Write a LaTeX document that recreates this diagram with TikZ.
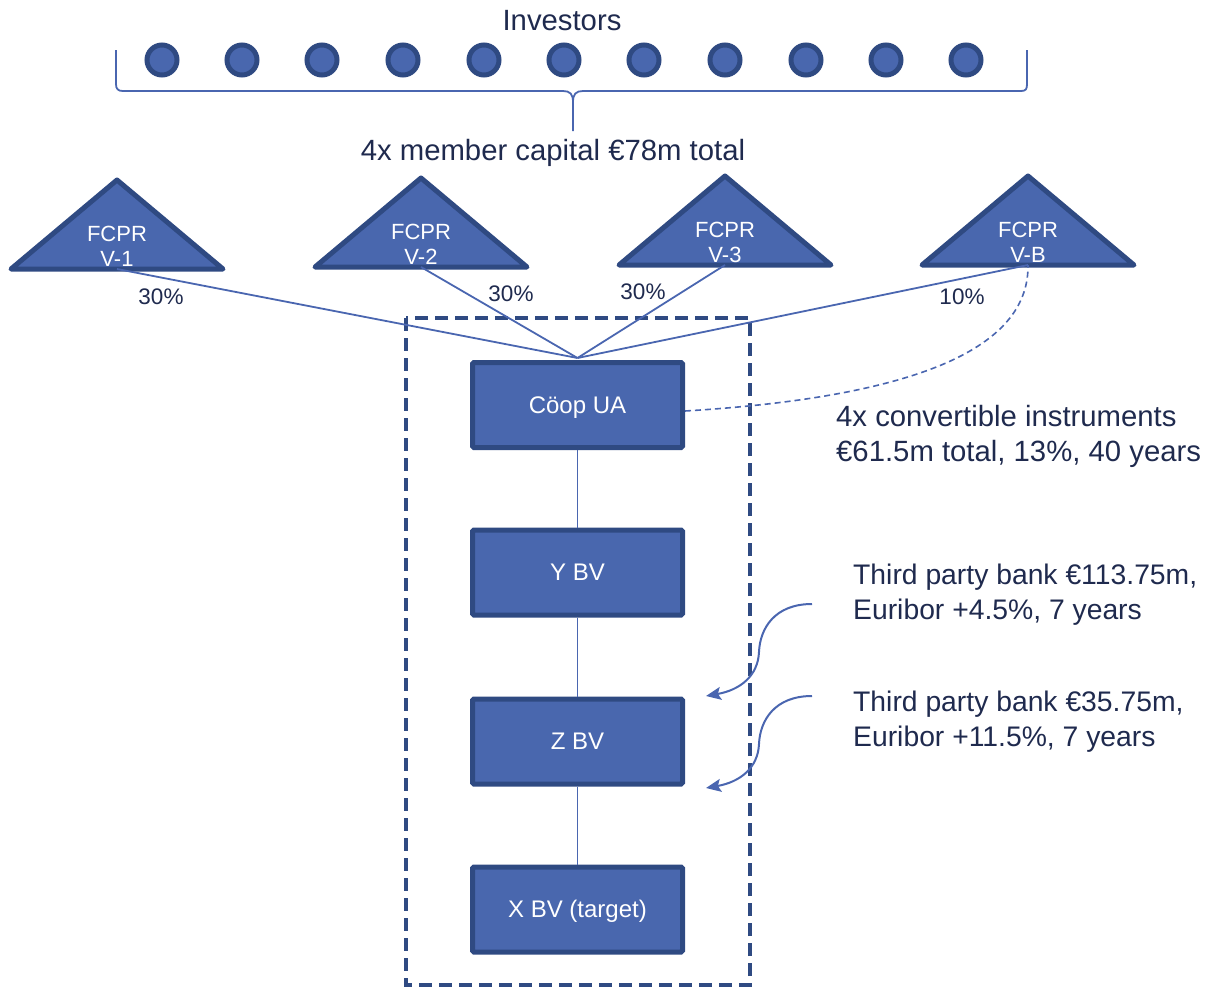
\documentclass[tikz,border=0pt]{standalone}
\usepackage{fontspec}
\setmainfont{Liberation Sans}
\usetikzlibrary{arrows.meta}
\definecolor{boxfill}{HTML}{4967AE}
\definecolor{boxedge}{HTML}{2F4A82}
\definecolor{linkblue}{HTML}{4A66B0}
\definecolor{navytext}{HTML}{1F2A4E}
\tikzset{
  txt/.style={text=navytext, inner sep=0pt, font=\fontsize{29.3}{35}\selectfont},
  banktxt/.style={text=navytext, inner sep=0pt, font=\fontsize{28.3}{35}\selectfont},
  pct/.style={text=navytext, inner sep=0pt, font=\fontsize{22.5}{25}\selectfont},
  entity/.style={draw=boxedge, fill=boxfill, line width=5pt, rounded corners=1.5pt,
    minimum width=210pt, minimum height=85pt, text=white, inner sep=0pt,
    text height=16pt, text depth=0pt,
    font=\fontsize{24}{28}\selectfont},
  investor/.style={circle, draw=boxedge, fill=boxfill, line width=5pt,
    minimum size=30pt, inner sep=0pt},
  fund/.style={draw=boxedge, fill=boxfill, line width=5pt, line join=round},
  fundtext/.style={text=white, inner sep=0pt, align=center,
    font=\fontsize{22}{26}\selectfont},
  link/.style={draw=linkblue, line width=1.8pt},
  perimeter/.style={draw=boxedge, line width=4pt, dash pattern=on 13pt off 7pt},
  loan/.style={draw=linkblue, line width=2pt, -{Stealth[length=15pt,width=13pt,inset=3pt]}},
}
\begin{document}
\begin{tikzpicture}[x=1pt,y=-1pt]
\useasboundingbox (0,0) rectangle (1211,988);

% investors and the brace that gathers them
\node[txt] (investors) at (562,21) {Investors};
\foreach \i/\x in {1/162,2/242,3/322,4/403,5/484,6/564,7/644,8/725,9/806,10/886,11/966}
  \node[investor] (inv\i) at (\x,60) {};
\draw[link]
  (116,50) -- (116,84) .. controls (116,89) and (118,91) .. (123,91) -- (563,91)
  .. controls (570,91) and (573,94) .. (573,102) -- (573,131);
\draw[link]
  (573,102) .. controls (573,94) and (576,91) .. (583,91) -- (1021,91)
  .. controls (1026,91) and (1027,89) .. (1027,84) -- (1027,50);
\node[txt] (capital) at (553,153) {4x member capital €78m total};

% the four FCPR funds
\foreach \cx/\ty/\nm/\lab in {117/180/f1/V-1, 421/178/f2/V-2, 725/176/f3/V-3, 1028/176/fb/V-B}{
  \draw[fund] (\cx-106,\ty+89) -- (\cx,\ty) -- (\cx+106,\ty+89) -- cycle;
  \node[fundtext] (\nm) at (\cx,\ty+66) {FCPR\\[-1pt]\lab};
  \coordinate (\nm b) at (\cx,\ty+89);
}

% holding structure
\draw[perimeter] (406,318) rectangle (750,985);
\node[entity] (coop) at (577.5,405) {Cöop UA};
\node[entity] (ybv) at (577.5,572.5) {Y BV};
\node[entity] (zbv) at (577.5,741.5) {Z BV};
\node[entity] (xbv) at (577.5,909.5) {X BV (target)};

\coordinate (top) at (577.5,358);
\foreach \f in {f1b,f2b,f3b,fbb}
  \draw[link] (\f) -- (top);
\draw[link] (coop) -- (ybv);
\draw[link] (ybv) -- (zbv);
\draw[link] (zbv) -- (xbv);

\node[pct] (p1) at (161,297) {30\%};
\node[pct] (p2) at (511,294) {30\%};
\node[pct] (p3) at (643,292) {30\%};
\node[pct] (p4) at (962,297) {10\%};

% convertible instruments
\draw[link, line width=1.6pt, dash pattern=on 6pt off 4pt]
  ([yshift=-6pt]coop.east) .. controls (950,395) and (1029,335) .. (fbb);
\node[txt, anchor=west, align=left] (conv) at (836,436)
  {4x convertible instruments\\€61.5m total, 13\%, 40 years};

% bank debt
\node[banktxt, anchor=west, align=left] (bank1) at (853,595)
  {Third party bank €113.75m,\\Euribor +4.5\%, 7 years};
\node[banktxt, anchor=west, align=left] (bank2) at (853,722)
  {Third party bank €35.75m,\\Euribor +11.5\%, 7 years};
\coordinate (b1s) at (812,604);
\coordinate (b1e) at (706,696);
\coordinate (b2s) at (812,696);
\coordinate (b2e) at (706,788);
\draw[loan] (b1s) .. controls (775,604) and (760,628) .. (759,652)
  .. controls (758,676) and (740,690) .. (b1e);
\draw[loan] (b2s) .. controls (775,696) and (760,720) .. (759,744)
  .. controls (758,768) and (740,782) .. (b2e);
\end{tikzpicture}
\end{document}
